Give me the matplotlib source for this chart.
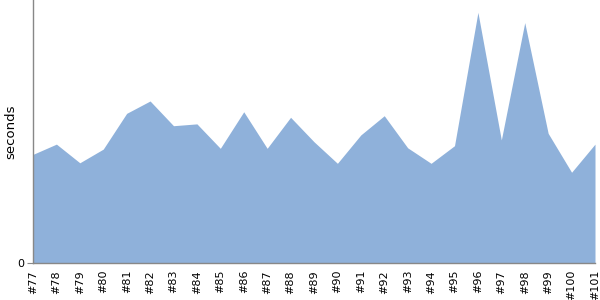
import matplotlib
matplotlib.use("Agg")
import matplotlib.pyplot as plt

builds = ["#77", "#78", "#79", "#80", "#81", "#82", "#83", "#84", "#85",
          "#86", "#87", "#88", "#89", "#90", "#91", "#92", "#93", "#94",
          "#95", "#96", "#97", "#98", "#99", "#100", "#101"]
durations = [41.3, 45.2, 38.1, 43.3, 56.9, 61.6, 52.2, 52.9, 43.6,
             57.5, 43.6, 55.4, 46.1, 37.9, 48.7, 56.0, 43.8, 37.9,
             44.6, 95.3, 46.8, 91.4, 49.3, 34.5, 45.2]

fig = plt.figure(figsize=(6, 3), dpi=100)
ax = fig.add_axes([33 / 600, 1 - 263 / 300, (595 - 33) / 600, 263 / 300])

x = list(range(len(builds)))
ax.fill_between(x, durations, 0, color="#8fb1da", linewidth=0)

ax.set_xlim(0, len(builds) - 1)
ax.set_ylim(0, 100)
ax.set_xticks(x)
ax.set_xticklabels(builds, rotation=90, fontsize=8)
ax.tick_params(axis="x", length=0, pad=5)
ax.set_yticks([0])
ax.tick_params(axis="y", length=4, color="#888888", labelsize=8, pad=2)
ax.set_ylabel("seconds", fontsize=9.5)
ax.yaxis.set_label_coords(-16 / 562, 0.5)

for side in ["top", "right"]:
    ax.spines[side].set_visible(False)
for side in ["left", "bottom"]:
    ax.spines[side].set_color("#888888")
    ax.spines[side].set_linewidth(1)

fig.savefig("out.png", dpi=100)
